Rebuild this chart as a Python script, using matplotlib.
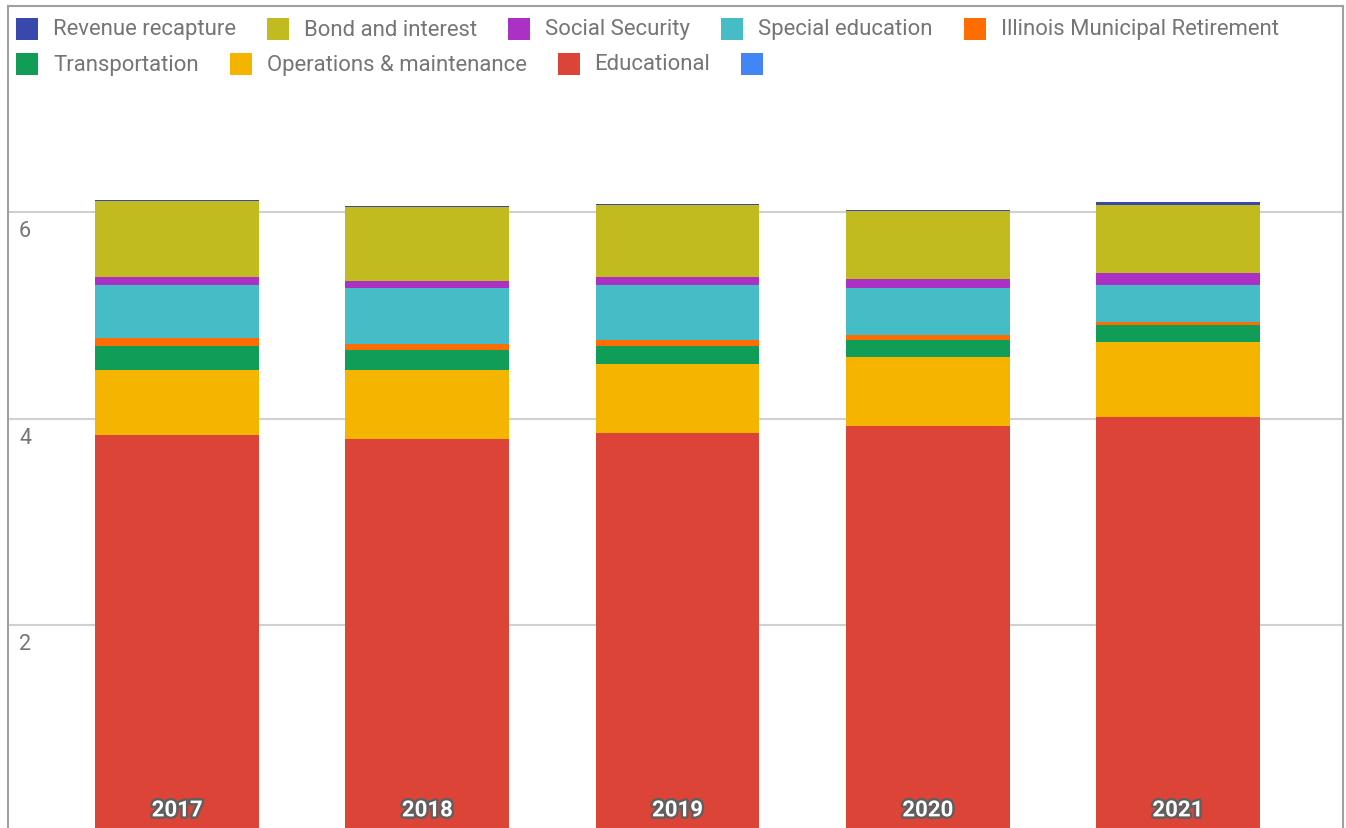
import matplotlib
matplotlib.use("Agg")
import matplotlib.pyplot as plt
import matplotlib.patheffects as pe
from matplotlib.patches import Rectangle
import numpy as np

plt.rcParams['font.family'] = ['Roboto', 'DejaVu Sans']

years = ["2017", "2018", "2019", "2020", "2021"]

# stacked bottom -> top
educational = [3.84, 3.80, 3.86, 3.927, 4.015]
operations = [0.63, 0.669, 0.669, 0.669, 0.727]
transportation = [0.233, 0.191, 0.175, 0.165, 0.165]
imrf = [0.078, 0.058, 0.058, 0.0485, 0.029]
special_ed = [0.514, 0.546, 0.533, 0.456, 0.359]
social_security = [0.081, 0.068, 0.078, 0.087, 0.116]
bond_interest = [0.734, 0.718, 0.698, 0.66, 0.66]
revenue_recapture = [0.01, 0.01, 0.01, 0.01, 0.025]

series_names = ["Educational", "Operations & maintenance", "Transportation",
                "Illinois Municipal Retirement", "Special education",
                "Social Security", "Bond and interest", "Revenue recapture"]
series_vals = [educational, operations, transportation, imrf, special_ed,
               social_security, bond_interest, revenue_recapture]
colors = {
    "Revenue recapture": "#3949AB",
    "Bond and interest": "#C2BB20",
    "Social Security": "#AB30C4",
    "Special education": "#46BDC6",
    "Illinois Municipal Retirement": "#FF6D01",
    "Transportation": "#0F9D58",
    "Operations & maintenance": "#F4B400",
    "Educational": "#DB4437",
}
legend_order = ["Revenue recapture", "Bond and interest", "Social Security",
                "Special education", "Illinois Municipal Retirement",
                "Transportation", "Operations & maintenance", "Educational", ""]
extra_color = "#4285F4"

yticks = [2, 4, 6]

W, H = 1346, 829
fig = plt.figure(figsize=(W / 100, H / 100), dpi=100)
ax = fig.add_axes([8 / W, -3 / H, (1343 - 8) / W, (832 - 7) / H])

x = np.arange(len(years))
bottom = np.zeros(len(years))
for name, vals in zip(series_names, series_vals):
    ax.bar(x, vals, bottom=bottom, width=0.655, color=colors[name], zorder=3, linewidth=0)
    bottom += np.array(vals)

ax.set_xlim(-0.676, 4.66)
ax.set_ylim(0, 8)
ax.set_xticks([])
ax.set_yticks([])
for yv in yticks:
    ax.axhline(yv, color="#D0D0D0", lw=1.5, zorder=1)
    ax.text(11 / 1335, yv - 0.18, str(yv), transform=ax.get_yaxis_transform(),
            ha="left", va="center", fontsize=15.5, color="#757575")

for s in ["left", "top", "right"]:
    ax.spines[s].set_color("#A0A0A0")
    ax.spines[s].set_linewidth(1.5)
ax.spines["bottom"].set_visible(False)

for i, yr in enumerate(years):
    ax.text(i, 0.2, yr, ha="center", va="center", fontsize=16, fontweight="bold",
            color="white", zorder=5,
            path_effects=[pe.withStroke(linewidth=3.5, foreground="#5f5f5f")])

# legend (flow layout)
renderer = fig.canvas.get_renderer()
def fx(px):
    return px / W
def fy(py):
    return 1 - py / H

cur_x = 16
row_y = [30, 65]
row = 0
msize = 22
for name in legend_order:
    col = colors.get(name, extra_color)
    tw = 0
    t = None
    if name:
        t = fig.text(0, 0, name, fontsize=15.9, color="#757575", va="center", ha="left")
        tw = t.get_window_extent(renderer).width
    item_w = msize + (15 + tw if name else 0)
    if cur_x + item_w > 1335:
        row += 1
        cur_x = 16
    yc = row_y[row]
    fig.patches.append(Rectangle((fx(cur_x), fy(yc + msize / 2)), msize / W, msize / H,
                                 transform=fig.transFigure, facecolor=col,
                                 edgecolor="none", figure=fig))
    if t is not None:
        t.set_position((fx(cur_x + msize + 15), fy(yc)))
    cur_x += item_w + 31

fig.savefig("out.png", dpi=100)
